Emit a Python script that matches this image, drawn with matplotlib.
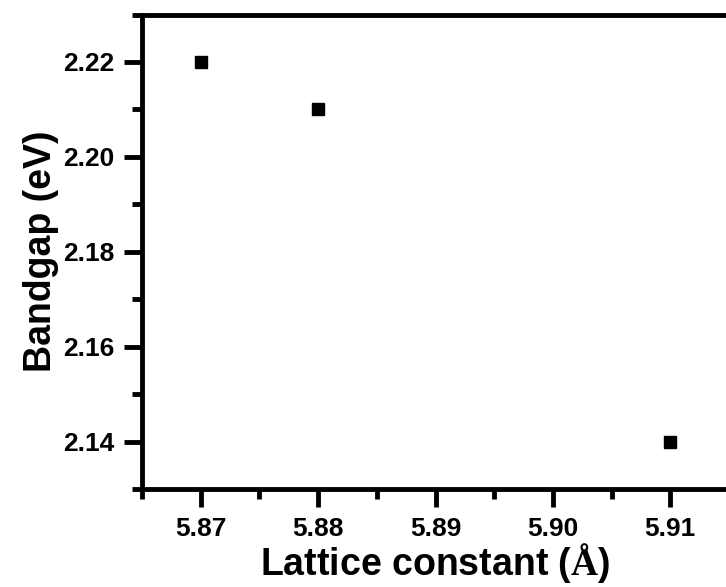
import matplotlib
matplotlib.use("Agg")
import matplotlib.pyplot as plt
from matplotlib.ticker import MultipleLocator

lattice = [5.87, 5.88, 5.91]
bandgap = [2.22, 2.21, 2.14]

plt.rcParams["font.family"] = "Liberation Sans"
plt.rcParams["font.weight"] = "bold"
plt.rcParams["mathtext.fontset"] = "custom"
plt.rcParams["mathtext.rm"] = "Liberation Serif"
plt.rcParams["mathtext.bf"] = "Liberation Serif:bold"

fig = plt.figure(figsize=(7.26, 5.87), dpi=100)
ax = fig.add_axes([142 / 726, 1 - 489 / 587, (729 - 142) / 726, (489 - 14.5) / 587])

ax.plot(lattice, bandgap, "s", color="black", markersize=8, linestyle="none")

ax.set_xlim(5.865, 5.915)
ax.set_ylim(2.13, 2.23)
ax.xaxis.set_major_locator(MultipleLocator(0.01))
ax.xaxis.set_minor_locator(MultipleLocator(0.005))
ax.yaxis.set_major_locator(MultipleLocator(0.02))
ax.yaxis.set_minor_locator(MultipleLocator(0.01))
ax.xaxis.set_major_formatter(plt.FormatStrFormatter("%.2f"))
ax.yaxis.set_major_formatter(plt.FormatStrFormatter("%.2f"))

for s in ax.spines.values():
    s.set_linewidth(3.5)
ax.tick_params(which="major", direction="out", length=13, width=3.5, labelsize=19)
ax.tick_params(axis="x", which="major", pad=7)
ax.tick_params(axis="y", which="major", pad=7)
ax.tick_params(which="minor", direction="out", length=7.5, width=3.5)
ax.tick_params(top=False, right=False, which="both")

ax.set_xlabel(r"Lattice constant ($\mathbf{\AA}$)", fontsize=27, fontweight="bold", labelpad=0)
ax.set_ylabel("Bandgap (eV)", fontsize=27, fontweight="bold", labelpad=3)

fig.savefig("out.png", dpi=100)
